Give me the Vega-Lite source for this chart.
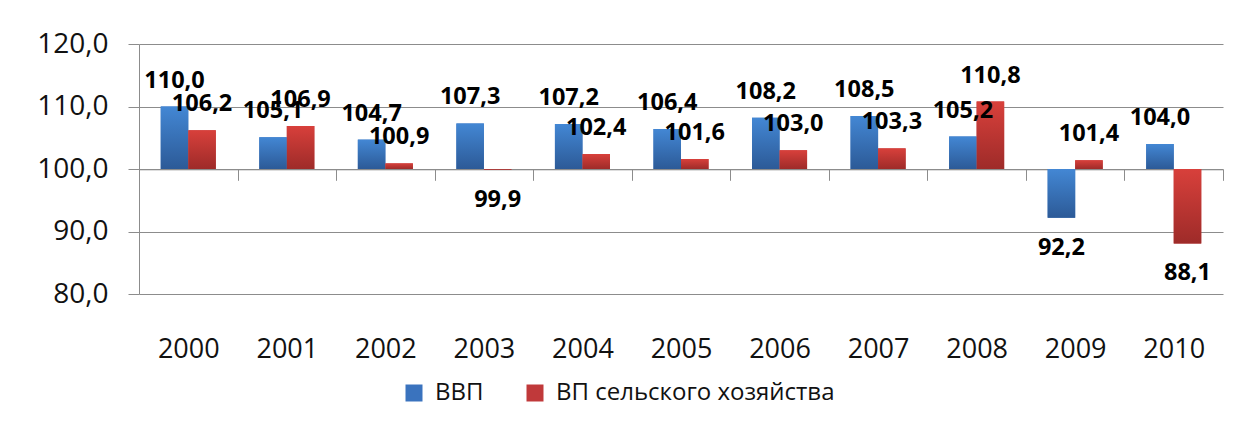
{
  "$schema": "https://vega.github.io/schema/vega-lite/v6.json",
  "width": 1084,
  "height": 250,
  "autosize": "none",
  "padding": {"left": 139, "top": 44, "right": 20, "bottom": 135},
  "background": "white",
  "config": {
    "locale": {"number": {"decimal": ",", "thousands": " ", "grouping": [3], "currency": ["", ""]}},
    "view": {"stroke": null},
    "font": "Open Sans"
  },
  "data": {
    "values": [
      {"year": "2000", "series": "ВВП", "value": 110.0},
      {"year": "2000", "series": "ВП сельского хозяйства", "value": 106.2},
      {"year": "2001", "series": "ВВП", "value": 105.1},
      {"year": "2001", "series": "ВП сельского хозяйства", "value": 106.9},
      {"year": "2002", "series": "ВВП", "value": 104.7},
      {"year": "2002", "series": "ВП сельского хозяйства", "value": 100.9},
      {"year": "2003", "series": "ВВП", "value": 107.3},
      {"year": "2003", "series": "ВП сельского хозяйства", "value": 99.9},
      {"year": "2004", "series": "ВВП", "value": 107.2},
      {"year": "2004", "series": "ВП сельского хозяйства", "value": 102.4},
      {"year": "2005", "series": "ВВП", "value": 106.4},
      {"year": "2005", "series": "ВП сельского хозяйства", "value": 101.6},
      {"year": "2006", "series": "ВВП", "value": 108.2},
      {"year": "2006", "series": "ВП сельского хозяйства", "value": 103.0},
      {"year": "2007", "series": "ВВП", "value": 108.5},
      {"year": "2007", "series": "ВП сельского хозяйства", "value": 103.3},
      {"year": "2008", "series": "ВВП", "value": 105.2},
      {"year": "2008", "series": "ВП сельского хозяйства", "value": 110.8},
      {"year": "2009", "series": "ВВП", "value": 92.2},
      {"year": "2009", "series": "ВП сельского хозяйства", "value": 101.4},
      {"year": "2010", "series": "ВВП", "value": 104.0},
      {"year": "2010", "series": "ВП сельского хозяйства", "value": 88.1}
    ]
  },
  "encoding": {
    "x": {
      "field": "year",
      "type": "ordinal",
      "scale": {"paddingInner": 0, "paddingOuter": 0},
      "axis": {
        "title": null,
        "orient": "bottom",
        "offset": -124.7,
        "tickBand": "extent",
        "tickSize": 11,
        "tickColor": "#8c8c8c",
        "domainColor": "#8c8c8c",
        "labelPadding": 156,
        "labelFontSize": 27,
        "labelColor": "#111111",
        "labelAngle": 0,
        "labelBaseline": "top",
        "grid": false
      }
    },
    "xOffset": {
      "field": "series",
      "type": "nominal",
      "sort": ["ВВП", "ВП сельского хозяйства"],
      "scale": {"paddingInner": 0, "paddingOuter": 0.79}
    },
    "y": {
      "field": "value",
      "type": "quantitative",
      "scale": {"domain": [80, 120], "nice": false, "zero": false},
      "axis": {
        "title": null,
        "values": [80, 90, 100, 110, 120],
        "format": ".1f",
        "grid": true,
        "gridColor": "#8c8c8c",
        "tickSize": 11,
        "tickColor": "#8c8c8c",
        "domainColor": "#8c8c8c",
        "labelFontSize": 28,
        "labelPadding": 20,
        "labelColor": "#111111"
      }
    }
  },
  "layer": [
    {
      "mark": {"type": "bar"},
      "encoding": {
        "y2": {"datum": 100},
        "color": {
          "field": "series",
          "type": "nominal",
          "scale": {
            "domain": ["ВВП", "ВП сельского хозяйства"],
            "range": ["#3A73BE", "#C0393A"]
          },
          "legend": {
            "orient": "none",
            "legendX": 263,
            "legendY": 337,
            "direction": "horizontal",
            "title": null,
            "symbolType": "square",
            "symbolSize": 289,
            "symbolStrokeWidth": 0,
            "labelFontSize": 24,
            "labelLimit": 500,
            "labelColor": "#111111",
            "labelOffset": 9,
            "columnPadding": 39,
            "padding": 0
          }
        }
      }
    },
    {
      "mark": {"type": "bar"},
      "encoding": {
        "y2": {"datum": 100},
        "color": {
          "condition": {
            "test": "datum.series === 'ВВП'",
            "value": {"gradient": "linear", "x1": 0, "y1": 0, "x2": 0, "y2": 1, "stops": [{"offset": 0, "color": "#4387D4"}, {"offset": 1, "color": "#2C5A97"}]}
          },
          "value": {"gradient": "linear", "x1": 0, "y1": 0, "x2": 0, "y2": 1, "stops": [{"offset": 0, "color": "#D8403B"}, {"offset": 1, "color": "#9E2B29"}]}
        }
      }
    },
    {
      "transform": [{"filter": "datum.value >= 100"}],
      "mark": {"type": "text", "fontWeight": "bold", "fontSize": 23.5, "dy": -26, "baseline": "middle", "color": "#000000"},
      "encoding": {"text": {"field": "value", "type": "quantitative", "format": ".1f"}}
    },
    {
      "transform": [{"filter": "datum.value < 100"}],
      "mark": {"type": "text", "fontWeight": "bold", "fontSize": 23.5, "dy": 30, "baseline": "middle", "color": "#000000"},
      "encoding": {"text": {"field": "value", "type": "quantitative", "format": ".1f"}}
    }
  ]
}
